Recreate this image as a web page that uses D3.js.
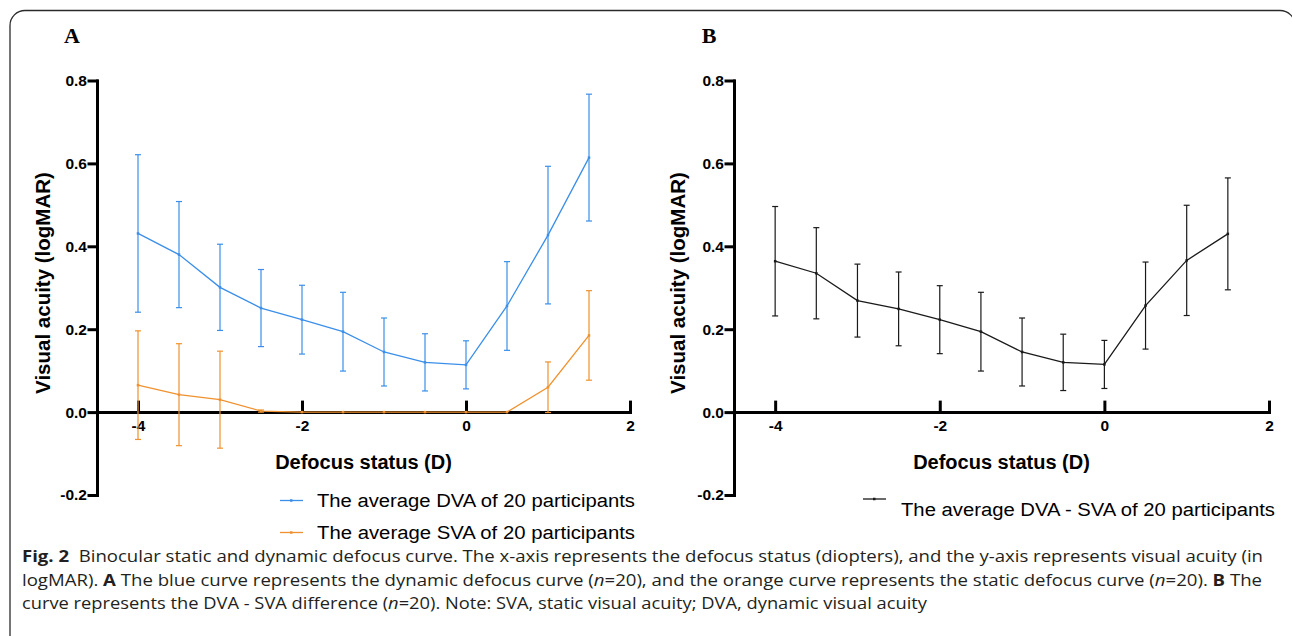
<!DOCTYPE html>
<html><head><meta charset="utf-8">
<script src="https://cdn.jsdelivr.net/npm/d3@7"></script>
<style>body{margin:0;background:#fff}svg{display:block}</style>
</head><body><svg id="c" width="1292" height="636"></svg>
<script>
const defocus = [-4, -3.5, -3, -2.5, -2, -1.5, -1, -0.5, 0, 0.5, 1, 1.5];
const dvaMean = [0.431, 0.380, 0.301, 0.251, 0.223, 0.194, 0.145, 0.120, 0.114, 0.256, 0.427, 0.614];
const dvaSD   = [0.190, 0.128, 0.104, 0.093, 0.083, 0.095, 0.082, 0.069, 0.058, 0.107, 0.166, 0.153];
const svaMean = [0.065, 0.042, 0.030, 0.0025, 0, 0, 0, 0, 0, 0, 0.060, 0.185];
const svaSD   = [0.131, 0.123, 0.117, 0.0025, 0, 0, 0, 0, 0, 0, 0.061, 0.108];
const diffMean = [0.364, 0.335, 0.269, 0.249, 0.223, 0.194, 0.145, 0.120, 0.115, 0.257, 0.366, 0.430];
const diffSD   = [0.132, 0.110, 0.088, 0.089, 0.082, 0.095, 0.082, 0.068, 0.058, 0.105, 0.133, 0.135];
const xTicks = [-4, -2, 0, 2];
const yTicks = [-0.2, 0.0, 0.2, 0.4, 0.6, 0.8];
const legendA = ["The average DVA of 20 participants", "The average SVA of 20 participants"];
const legendB = ["The average DVA - SVA of 20 participants"];
const xTitle = "Defocus status (D)";
const yTitle = "Visual acuity (logMAR)";

const BLUE = "#3b8fe9", ORANGE = "#f0912f", BLACK = "#1a1a1a";
const svg = d3.select("#c");

// figure frame
svg.append("rect").attr("x", 10).attr("y", 10.5).attr("width", 1285).attr("height", 700)
  .attr("rx", 15).attr("fill", "none").attr("stroke", "#2b2b2b").attr("stroke-width", 1.3);

function panel(o) {
  const g = svg.append("g");
  const x = d3.scaleLinear().domain([-4.5, 2]).range(o.xr);
  const y = d3.scaleLinear().domain([-0.2, 0.8]).range([495, 80.5]);

  g.append("text").attr("x", o.letterX).attr("y", 43).attr("text-anchor", "middle")
    .attr("font-family", "Liberation Serif, serif").attr("font-weight", "bold").attr("font-size", 22)
    .text(o.letter);

  // y axis
  const ya = g.append("g").attr("transform", `translate(${o.xr[0]},0)`)
    .call(d3.axisLeft(y).tickValues(yTicks).tickSizeInner(8).tickSizeOuter(0).tickPadding(2)
      .tickFormat(d => d.toFixed(1)));
  // x axis at y=0
  const xa = g.append("g").attr("transform", `translate(0,${y(0)})`)
    .call(d3.axisBottom(x).tickValues(xTicks).tickSizeInner(-10).tickSizeOuter(0).tickPadding(8)
      .tickFormat(d => String(d)));
  [ya, xa].forEach(a => {
    a.selectAll("path,line").attr("stroke", "#000").attr("stroke-width", 3).attr("stroke-linecap", "square");
    a.selectAll("text").attr("font-family", "Liberation Sans, Arial, sans-serif").attr("font-weight", "bold")
      .attr("font-size", 15.5).attr("fill", "#000");
  });

  g.append("text").attr("x", (x(-4.5) + x(2)) / 2 + o.xtOff).attr("y", 469).attr("text-anchor", "middle")
    .attr("font-family", "Liberation Sans, Arial, sans-serif").attr("font-weight", "bold").attr("font-size", 20)
    .text(xTitle);
  g.append("text").attr("transform", `translate(${o.ytX},283) rotate(-90)`).attr("text-anchor", "middle")
    .attr("dy", "0.35em")
    .attr("font-family", "Liberation Sans, Arial, sans-serif").attr("font-weight", "bold").attr("font-size", 20.5)
    .text(yTitle);

  o.series.forEach(s => {
    const pts = defocus.map((d, i) => ({x: d, m: s.mean[i], sd: s.sd[i]}));
    const eb = g.append("g").attr("stroke", s.color).attr("stroke-width", 1.2);
    pts.filter(p => p.sd > 0).forEach(p => {
      const cx = x(p.x), y1 = y(p.m + p.sd), y2 = y(p.m - p.sd);
      eb.append("line").attr("x1", cx).attr("x2", cx).attr("y1", y1).attr("y2", y2);
      eb.append("line").attr("x1", cx - 3).attr("x2", cx + 3).attr("y1", y1).attr("y2", y1);
      eb.append("line").attr("x1", cx - 3).attr("x2", cx + 3).attr("y1", y2).attr("y2", y2);
    });
    g.append("path").datum(pts).attr("fill", "none").attr("stroke", s.color).attr("stroke-width", 1.3)
      .attr("d", d3.line().x(p => x(p.x)).y(p => y(p.m)));
    g.selectAll(null).data(pts).enter().append("rect")
      .attr("x", p => x(p.x) - 1.25).attr("y", p => y(p.m) - 1.25).attr("width", 2.5).attr("height", 2.5)
      .attr("fill", s.color);
  });

  o.legend.forEach((L, i) => {
    g.append("line").attr("x1", L.lx).attr("x2", L.lx + 23).attr("y1", L.ly).attr("y2", L.ly)
      .attr("stroke", L.color).attr("stroke-width", 1.3);
    g.append("rect").attr("x", L.lx + 10).attr("y", L.ly - 1.25).attr("width", 2.5).attr("height", 2.5).attr("fill", L.color);
    g.append("text").attr("x", L.tx).attr("y", L.ty)
      .attr("font-family", "Liberation Sans, Arial, sans-serif").attr("font-size", 18).attr("fill", "#000")
      .attr("textLength", L.w).attr("lengthAdjust", "spacingAndGlyphs")
      .text(L.text);
  });
}

panel({
  letter: "A", letterX: 72, xr: [97, 630], xtOff: 0, ytX: 43,
  series: [
    {mean: svaMean, sd: svaSD, color: ORANGE},
    {mean: dvaMean, sd: dvaSD, color: BLUE}
  ],
  legend: [
    {text: legendA[0], color: BLUE, lx: 280, ly: 500.5, tx: 317, ty: 507, w: 318},
    {text: legendA[1], color: ORANGE, lx: 280, ly: 532.5, tx: 317, ty: 539, w: 318}
  ]
});
panel({
  letter: "B", letterX: 709, xr: [734, 1269], xtOff: 0, ytX: 678,
  series: [{mean: diffMean, sd: diffSD, color: BLACK}],
  legend: [{text: legendB[0], color: BLACK, lx: 863, ly: 499, tx: 901, ty: 516, w: 374}]
});

// caption
const capLines = [
  {w: 1241, parts: [["Fig. 2", "bold"], ["  Binocular static and dynamic defocus curve. The x-axis represents the defocus status (diopters), and the y-axis represents visual acuity (in", ""]]},
  {w: 1240, parts: [["logMAR). ", ""], ["A", "bold"], [" The blue curve represents the dynamic defocus curve (", ""], ["n", "italic"], ["=20), and the orange curve represents the static defocus curve (", ""], ["n", "italic"], ["=20). ", ""], ["B", "bold"], [" The", ""]]},
  {w: 905, parts: [["curve represents the DVA - SVA difference (", ""], ["n", "italic"], ["=20). Note: SVA, static visual acuity; DVA, dynamic visual acuity", ""]]}
];
const capY = [562, 586, 609];
capLines.forEach((L, i) => {
  const t = svg.append("text").attr("x", 22).attr("y", capY[i])
    .attr("font-family", "Open Sans, Noto Sans, sans-serif").attr("font-size", 16).attr("fill", "#231f20")
    .attr("xml:space", "preserve").style("white-space", "pre");
  L.parts.forEach(p => {
    const ts = t.append("tspan").text(p[0]);
    if (p[1] === "bold") ts.attr("font-weight", "bold");
    if (p[1] === "italic") ts.attr("font-style", "italic");
  });
  t.attr("textLength", L.w).attr("lengthAdjust", "spacingAndGlyphs");
});
</script></body></html>
